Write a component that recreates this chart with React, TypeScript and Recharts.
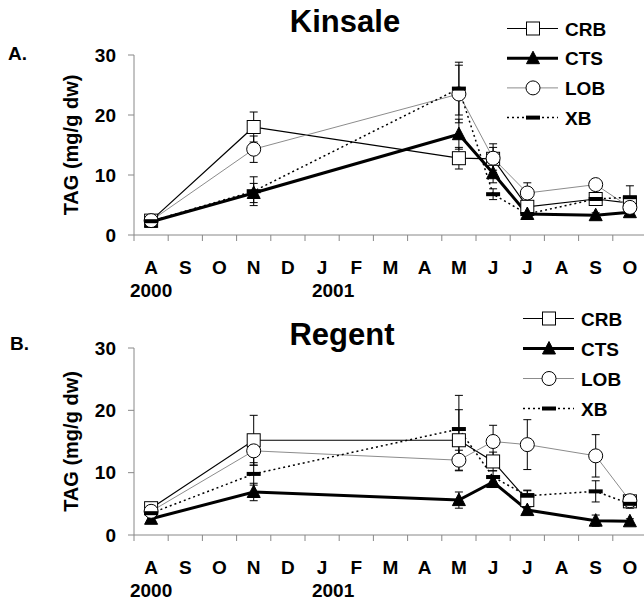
import React from 'react';
import { LineChart, Line, XAxis, YAxis, ErrorBar } from 'recharts';

// ---- categories / labels ----
const months = ['A', 'S', 'O', 'N', 'D', 'J', 'F', 'M', 'A', 'M', 'J', 'J', 'A', 'S', 'O'];
const yearLabels = ['2000', '', '', '', '', '2001', '', '', '', '', '', '', '', '', ''];
const sampleMonthIdx = [0, 3, 9, 10, 11, 13, 14];
const yTicks = [0, 10, 20, 30];
const seriesNames = ['CRB', 'CTS', 'LOB', 'XB'];

// ---- Kinsale (A) ----
const kinsaleCRB = [2.4, 18.0, 12.8, 12.7, 4.7, 6.0, 5.3];
const kinsaleCRBErr = [0.3, 2.5, 1.8, 1.9, 0.8, 0.8, 0.8];
const kinsaleCTS = [2.2, 7.0, 16.8, 10.3, 3.5, 3.3, 3.8];
const kinsaleCTSErr = [0.3, 1.6, 2.5, 1.6, 0.4, 0.4, 0.6];
const kinsaleLOB = [2.4, 14.3, 23.5, 12.8, 7.0, 8.4, 4.6];
const kinsaleLOBErr = [0.3, 2.2, 4.8, 2.4, 1.7, 0.8, 0.5];
const kinsaleXB = [2.3, 7.3, 24.4, 6.8, 3.5, 6.0, 6.3];
const kinsaleXBErr = [0.3, 2.4, 4.4, 0.9, 0.4, 0.8, 1.9];

// ---- Regent (B) ----
const regentCRB = [4.3, 15.2, 15.2, 11.8, 5.6, null, 5.4];
const regentCRBErr = [0.4, 4.0, 4.9, 1.5, 1.6, null, 0.4];
const regentCTS = [2.6, 6.9, 5.6, 8.5, 4.0, 2.3, 2.2];
const regentCTSErr = [0.3, 1.4, 1.3, 0.8, 0.5, 0.9, 0.4];
const regentLOB = [3.8, 13.5, 12.0, 15.0, 14.5, 12.7, 5.5];
const regentLOBErr = [0.3, 2.3, 1.6, 2.6, 4.0, 3.4, 0.6];
const regentXB = [3.5, 9.8, 17.0, 9.3, 6.3, 7.0, 5.0];
const regentXBErr = [0.3, 1.8, 5.4, 1.0, 0.8, 1.7, 0.7];

const FONT = '"Liberation Sans", Arial, Helvetica, sans-serif';

type SeriesStyle = { stroke: string; width: number; dash?: string; marker: string };
const seriesStyle: Record<string, SeriesStyle> = {
  CRB: { stroke: '#000', width: 1.2, marker: 'square' },
  CTS: { stroke: '#000', width: 3, marker: 'triangle' },
  LOB: { stroke: '#8c8c8c', width: 1, marker: 'circle' },
  XB: { stroke: '#000', width: 1.5, dash: '2 3', marker: 'dash' },
};

function buildRows(vals: (number | null)[][], errs: (number | null)[][]) {
  return sampleMonthIdx.map((m, i) => {
    const row: any = { x: m + 0.5 };
    seriesNames.forEach((s, k) => {
      row[s] = vals[k][i];
      row[s + 'e'] = errs[k][i];
    });
    return row;
  });
}

const kinsaleRows = buildRows(
  [kinsaleCRB, kinsaleCTS, kinsaleLOB, kinsaleXB],
  [kinsaleCRBErr, kinsaleCTSErr, kinsaleLOBErr, kinsaleXBErr]
);
const regentRows = buildRows(
  [regentCRB, regentCTS, regentLOB, regentXB],
  [regentCRBErr, regentCTSErr, regentLOBErr, regentXBErr]
);

const xTicks = Array.from({ length: months.length * 2 + 1 }, (_, k) => k / 2);

function Marker({ kind, cx, cy }: { kind: string; cx: number; cy: number }) {
  if (kind === 'square')
    return <rect x={cx - 6.5} y={cy - 6.5} width={13} height={13} fill="#fff" stroke="#000" strokeWidth={1} />;
  if (kind === 'triangle')
    return <polygon points={`${cx},${cy - 7} ${cx - 6.5},${cy + 5.5} ${cx + 6.5},${cy + 5.5}`} fill="#000" stroke="#000" strokeWidth={1} />;
  if (kind === 'circle') return <circle cx={cx} cy={cy} r={7} fill="#fff" stroke="#000" strokeWidth={1} />;
  return <rect x={cx - 7} y={cy - 2} width={14} height={4} fill="#000" />;
}

const makeDot = (kind: string) => (p: any) => {
  const { cx, cy, index, value } = p;
  if (cx == null || cy == null || value == null || Number.isNaN(cy)) return <g key={`${kind}-${index}`} />;
  return (
    <g key={`${kind}-${index}`}>
      <Marker kind={kind} cx={cx} cy={cy} />
    </g>
  );
};

const yearShift = [0, 0, 0, 0, 0, 11, 0, 0, 0, 0, 0, 0, 0, 0, 0];

function MonthTick(props: any) {
  const { x, y, payload } = props;
  const v = payload.value;
  if (Number.isInteger(v)) return <line x1={x} x2={x} y1={y} y2={y + 6} stroke="#888" strokeWidth={1} />;
  const i = Math.floor(v);
  return (
    <g>
      <text x={x} y={y + 38.5} textAnchor="middle" fontSize={19} fontWeight="bold" fill="#000" fontFamily={FONT}>
        {months[i]}
      </text>
      {yearLabels[i] ? (
        <text x={x + yearShift[i]} y={y + 62} textAnchor="middle" fontSize={19} fontWeight="bold" fill="#000" fontFamily={FONT}>
          {yearLabels[i]}
        </text>
      ) : null}
    </g>
  );
}

function YLabel(props: any) {
  const vb = props.viewBox || {};
  const x = vb.x + 4;
  const y = vb.y + vb.height / 2;
  return (
    <text x={x} y={y} transform={`rotate(-90, ${x}, ${y})`} textAnchor="middle" fontSize={20} fontWeight="bold" fill="#000" fontFamily={FONT}>
      TAG (mg/g dw)
    </text>
  );
}

function Panel({ rows, top, plotTop }: { rows: any[]; top: number; plotTop: number }) {
  return (
    <div style={{ position: 'absolute', left: 0, top }}>
      <LineChart width={648} height={300} data={rows} margin={{ top: plotTop, right: 1, left: 74, bottom: 5 }}>
        <XAxis
          type="number"
          dataKey="x"
          domain={[0, months.length]}
          ticks={xTicks}
          interval={0}
          tickLine={false}
          tickSize={0}
          tickMargin={0}
          axisLine={{ stroke: '#888', strokeWidth: 1 }}
          tick={<MonthTick />}
          height={60}
          allowDecimals
        />
        <YAxis
          type="number"
          domain={[0, 30]}
          ticks={yTicks}
          interval={0}
          width={60}
          tickSize={6}
          tickMargin={12}
          axisLine={{ stroke: '#888', strokeWidth: 1 }}
          tickLine={{ stroke: '#888', strokeWidth: 1 }}
          tick={{ fontSize: 19, fontWeight: 'bold', fill: '#000', fontFamily: FONT }}
          label={{ content: (p: any) => <YLabel {...p} /> }}
        />
        {seriesNames.map((s) => {
          const st = seriesStyle[s];
          return (
            <Line
              key={s}
              type="linear"
              dataKey={s}
              stroke={st.stroke}
              strokeWidth={st.width}
              strokeDasharray={st.dash}
              dot={makeDot(st.marker)}
              activeDot={false}
              connectNulls={false}
              isAnimationActive={false}
            />
          );
        })}
        {seriesNames.map((s) => (
          <Line
            key={s + '-err'}
            type="linear"
            dataKey={s}
            stroke="none"
            dot={false}
            activeDot={false}
            legendType="none"
            isAnimationActive={false}
          >
            <ErrorBar dataKey={s + 'e'} width={4} stroke="#000" strokeWidth={1} direction="y" isAnimationActive={false} />
          </Line>
        ))}
      </LineChart>
    </div>
  );
}

function LegendBlock({ x0, y0, step }: { x0: number; y0: number; step: number }) {
  return (
    <g>
      {seriesNames.map((s, i) => {
        const st = seriesStyle[s];
        const y = y0 + i * step;
        return (
          <g key={s}>
            <line x1={x0} x2={x0 + 51} y1={y} y2={y} stroke={st.stroke} strokeWidth={st.width} strokeDasharray={st.dash} />
            <Marker kind={st.marker} cx={x0 + 26} cy={y} />
            <text x={x0 + 58} y={y + 7} fontSize={19} fontWeight="bold" fill="#000" fontFamily={FONT}>
              {s}
            </text>
          </g>
        );
      })}
    </g>
  );
}

export default function App() {
  return (
    <div style={{ position: 'absolute', left: 0, top: 0, width: 644, height: 600, overflow: 'hidden', background: '#fff', fontFamily: FONT }}>
      <Panel rows={kinsaleRows} top={0} plotTop={55} />
      <Panel rows={regentRows} top={300} plotTop={48} />
      <svg width={644} height={600} style={{ position: 'absolute', left: 0, top: 0, pointerEvents: 'none' }}>
        <text x={345} y={32} textAnchor="middle" fontSize={31} fontWeight="bold" fill="#000" fontFamily={FONT}>
          Kinsale
        </text>
        <text x={342} y={345} textAnchor="middle" fontSize={31} fontWeight="bold" fill="#000" fontFamily={FONT}>
          Regent
        </text>
        <text x={8} y={60} fontSize={19} fontWeight="bold" fill="#000" fontFamily={FONT}>
          A.
        </text>
        <text x={10} y={350} fontSize={19} fontWeight="bold" fill="#000" fontFamily={FONT}>
          B.
        </text>
        <LegendBlock x0={507} y0={28.5} step={29.7} />
        <LegendBlock x0={523} y0={318.5} step={30} />
      </svg>
    </div>
  );
}
